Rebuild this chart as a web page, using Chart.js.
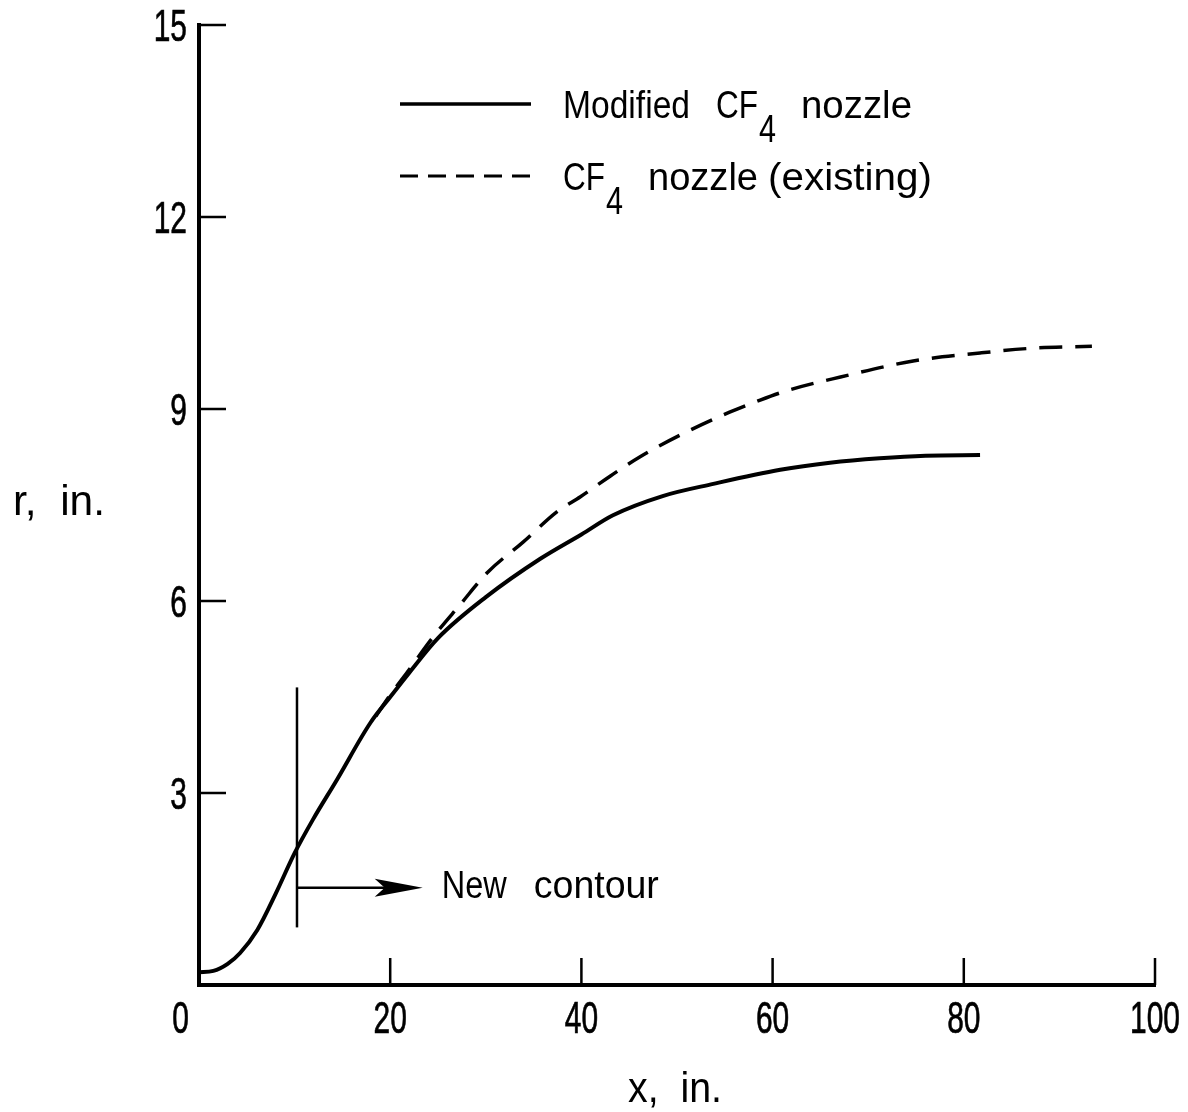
<!DOCTYPE html>
<html><head><meta charset="utf-8">
<script src="https://cdn.jsdelivr.net/npm/chart.js@4.4.1/dist/chart.umd.min.js"></script>
<style>html,body{margin:0;padding:0;background:#fff;}canvas{display:block;}</style>
</head><body>
<canvas id="c" width="1188" height="1112"></canvas>
<script>
const FONT = "'Liberation Sans', Arial, sans-serif";

// Modified CF4 nozzle (solid)
const modifiedX = [0, 1.5, 3, 4.3, 6.1, 8, 10, 11.9, 14.4, 17.9, 20, 22, 25, 30, 35.7, 40, 43.3, 48.5, 53.8, 60.8, 66, 71.2, 76, 81.7];
const modifiedR = [0.2, 0.22, 0.33, 0.5, 0.86, 1.42, 2.06, 2.58, 3.2, 4.09, 4.5, 4.88, 5.42, 6.06, 6.66, 7.04, 7.34, 7.64, 7.83, 8.05, 8.16, 8.23, 8.27, 8.28];
// CF4 nozzle (existing) (dashed)
const existingX = [18.5, 20, 21.8, 24.5, 27.3, 30.2, 33.9, 37.4, 39.9, 43, 46.1, 50.3, 55.5, 58.7, 61.8, 67.1, 74.7, 81.7, 87.2, 93.4];
const existingR = [4.2, 4.53, 4.89, 5.44, 5.94, 6.45, 6.92, 7.39, 7.63, 7.95, 8.25, 8.59, 8.95, 9.14, 9.30, 9.5, 9.75, 9.875, 9.95, 9.98];

const xTickLabels = [0, 20, 40, 60, 80, 100];
const yTickLabels = [3, 6, 9, 12, 15];
const xTickMarks = [20, 40, 60, 80, 100];
const yTickMarks = [3, 6, 9, 12, 15];

const seriesNames = ['Modified CF4 nozzle', 'CF4 nozzle (existing)'];
const xTitle = 'x,  in.';
const yTitle = 'r,  in.';

// "New contour" marker (data units)
const markerX = 10.25;
const markerR = [0.9, 4.65];
const arrowR = 1.52;
const arrowX = [10.25, 23.4];
const noteWords = ['New', 'contour'];
const noteAt = [25.4, 1.36];

function scaledText(ctx, text, x, y, sx, align, stroke) {
  ctx.save();
  ctx.translate(x, y);
  ctx.scale(sx, 1);
  ctx.textAlign = align || 'left';
  ctx.textBaseline = 'alphabetic';
  ctx.fillText(text, 0, 0);
  if (stroke) { ctx.lineWidth = stroke; ctx.strokeText(text, 0, 0); }
  ctx.restore();
}
function fitText(ctx, text, x, y, w, align) {
  const m = ctx.measureText(text).width;
  scaledText(ctx, text, x, y, w / m, align);
}

const annot = {
  id: 'annot',
  afterDatasetsDraw(chart) {
    const {ctx, chartArea: a, scales: {x, y}} = chart;
    ctx.save();
    ctx.strokeStyle = '#000';
    ctx.fillStyle = '#000';
    ctx.lineCap = 'butt';
    // inward ticks
    ctx.lineWidth = 2.5;
    ctx.beginPath();
    yTickMarks.forEach(v => { const py = y.getPixelForValue(v); ctx.moveTo(a.left, py); ctx.lineTo(a.left + 27, py); });
    xTickMarks.forEach(v => { const px = x.getPixelForValue(v); ctx.moveTo(px, a.bottom); ctx.lineTo(px, a.bottom - 27); });
    ctx.stroke();

    // tick labels (condensed)
    ctx.font = '44px ' + FONT;
    xTickLabels.forEach((v, i) => {
      const px = x.getPixelForValue(v);
      if (i === 0) scaledText(ctx, String(v), a.left - 10, a.bottom + 48, 0.68, 'right', 0.7);
      else scaledText(ctx, String(v), px, a.bottom + 48, 0.68, 'center', 0.7);
    });
    yTickLabels.forEach(v => {
      const py = y.getPixelForValue(v);
      scaledText(ctx, String(v), a.left - 12, py + 16, 0.68, 'right', 0.7);
    });

    // vertical marker
    ctx.lineWidth = 2.5;
    const mx = x.getPixelForValue(markerX);
    ctx.beginPath();
    ctx.moveTo(mx, y.getPixelForValue(markerR[0]));
    ctx.lineTo(mx, y.getPixelForValue(markerR[1]));
    ctx.stroke();
    // arrow
    const ay = y.getPixelForValue(arrowR);
    const ax0 = x.getPixelForValue(arrowX[0]);
    const ax1 = x.getPixelForValue(arrowX[1]);
    ctx.beginPath();
    ctx.moveTo(ax0, ay); ctx.lineTo(ax1 - 30, ay);
    ctx.stroke();
    ctx.beginPath();
    ctx.moveTo(ax1, ay);
    ctx.lineTo(ax1 - 48, ay - 9);
    ctx.lineTo(ax1 - 38, ay);
    ctx.lineTo(ax1 - 48, ay + 9);
    ctx.closePath();
    ctx.fill();

    // note text
    ctx.font = '39px ' + FONT;
    const nx = x.getPixelForValue(noteAt[0]);
    const ny = y.getPixelForValue(noteAt[1]);
    fitText(ctx, noteWords[0], nx, ny, 65);
    fitText(ctx, noteWords[1], nx + 92, ny, 125);

    // legend
    ctx.lineWidth = 3.5;
    ctx.beginPath(); ctx.moveTo(400, 104); ctx.lineTo(531, 104); ctx.stroke();
    ctx.setLineDash([18, 10]);
    ctx.lineWidth = 3;
    ctx.beginPath(); ctx.moveTo(400, 176); ctx.lineTo(530, 176); ctx.stroke();
    ctx.setLineDash([]);
    ctx.font = '39px ' + FONT;
    fitText(ctx, 'Modified', 563, 118, 127);
    fitText(ctx, 'CF', 716, 118, 42);
    fitText(ctx, '4', 759, 142, 17);
    fitText(ctx, 'nozzle', 801, 118, 111);
    fitText(ctx, 'CF', 563, 190, 42);
    fitText(ctx, '4', 606, 214, 17);
    fitText(ctx, 'nozzle', 648, 190, 110);
    fitText(ctx, '(existing)', 768, 190, 164);

    // axis titles
    ctx.font = '43px ' + FONT;
    fitText(ctx, yTitle, 13, 515, 92);
    fitText(ctx, xTitle, (a.left + a.right) / 2 - 2, 1102, 94, 'center');
    ctx.restore();
  }
};

new Chart(document.getElementById('c').getContext('2d'), {
  type: 'line',
  data: {
    datasets: [
      {
        label: seriesNames[0],
        data: modifiedX.map((v, i) => ({x: v, y: modifiedR[i]})),
        borderColor: '#000', borderWidth: 4, pointRadius: 0,
        cubicInterpolationMode: 'monotone', fill: false
      },
      {
        label: seriesNames[1],
        data: existingX.map((v, i) => ({x: v, y: existingR[i]})),
        borderColor: '#000', borderWidth: 3.5, borderDash: [23, 13], pointRadius: 0,
        cubicInterpolationMode: 'monotone', fill: false
      }
    ]
  },
  options: {
    responsive: false,
    devicePixelRatio: 1,
    animation: false,
    layout: {padding: {left: 0, top: 25, right: 33, bottom: 0}},
    plugins: {legend: {display: false}, tooltip: {enabled: false}},
    scales: {
      x: {
        type: 'linear', min: 0, max: 100,
        afterBuildTicks: s => { s.ticks = xTickLabels.map(v => ({value: v})); },
        afterFit: s => { s.height = 127; },
        ticks: {display: false},
        grid: {drawOnChartArea: false, drawTicks: false},
        border: {display: true, color: '#000', width: 4}
      },
      y: {
        type: 'linear', min: 0, max: 15,
        afterBuildTicks: s => { s.ticks = yTickLabels.map(v => ({value: v})); },
        afterFit: s => { s.width = 199; },
        ticks: {display: false},
        grid: {drawOnChartArea: false, drawTicks: false},
        border: {display: true, color: '#000', width: 4}
      }
    }
  },
  plugins: [annot]
});
</script>
</body></html>
